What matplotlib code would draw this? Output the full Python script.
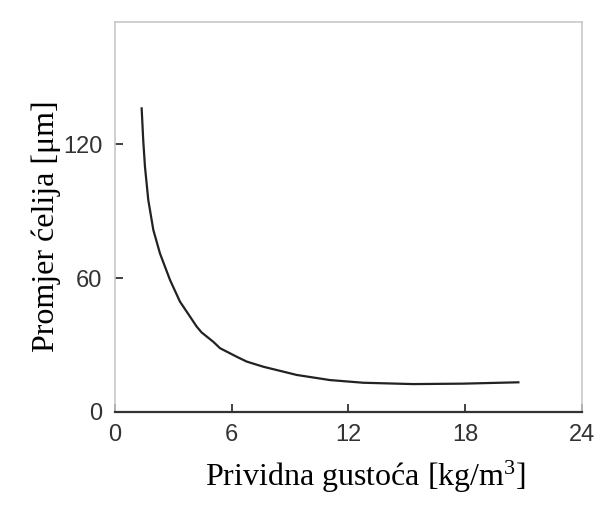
import matplotlib
matplotlib.use("Agg")
import matplotlib.pyplot as plt

# Data
density = [1.37, 1.45, 1.54, 1.71, 1.97, 2.31, 2.83, 3.34, 3.51, 4.20, 4.45, 5.05, 5.40,
           6.25, 6.77, 7.62, 9.34, 11.05, 12.76, 15.33, 17.90, 20.73]
cell_diameter = [136.2, 122.0, 110.0, 95.1, 81.6, 71.1, 59.1, 49.4, 47.2, 38.2, 35.6, 31.4, 28.5,
                 24.7, 22.5, 20.2, 16.5, 14.2, 13.0, 12.4, 12.6, 13.2]
x_ticks = [0, 6, 12, 18, 24]
y_ticks = [0, 60, 120]

plt.rcParams['mathtext.fontset'] = 'custom'
plt.rcParams['mathtext.rm'] = 'Liberation Serif'

fig = plt.figure(figsize=(6.08, 5.13), dpi=100)
ax = fig.add_axes([115/608, 1-411.7/513, 467/608, 389.7/513])

ax.plot(density, cell_diameter, color='#222222', lw=1.6, solid_joinstyle='round')

ax.set_xlim(0, 24)
ax.set_ylim(0, 175)
ax.set_xticks(x_ticks)
ax.set_yticks(y_ticks)

for s in ['left', 'top', 'right']:
    ax.spines[s].set_color('#c8c8c8')
    ax.spines[s].set_linewidth(1.2)
ax.spines['bottom'].set_color('#333333')
ax.spines['bottom'].set_linewidth(1.6)

ax.tick_params(axis='both', direction='in', length=6, width=1.3, color='#333333',
               labelcolor='#333333', labelsize=17)
ax.tick_params(axis='x', pad=9)
ax.tick_params(axis='y', pad=9)
for lab in ax.get_xticklabels() + ax.get_yticklabels():
    lab.set_fontfamily('Liberation Sans')

ax.set_xlabel('Prividna gustoća [kg/m$\\mathregular{^3}$]', fontfamily='Liberation Serif',
              fontsize=23, color='black')
ax.xaxis.set_label_coords((366-115)/467, (411.7-477)/389.7)
ax.xaxis.label.set_va('center')

ax.set_ylabel('Promjer ćelija [μm]', fontfamily='Liberation Serif', fontsize=23, color='black')
ax.yaxis.set_label_coords((46-115)/467, (411.7-226)/389.7)
ax.yaxis.label.set_va('center')

fig.savefig('out.png', dpi=100)
